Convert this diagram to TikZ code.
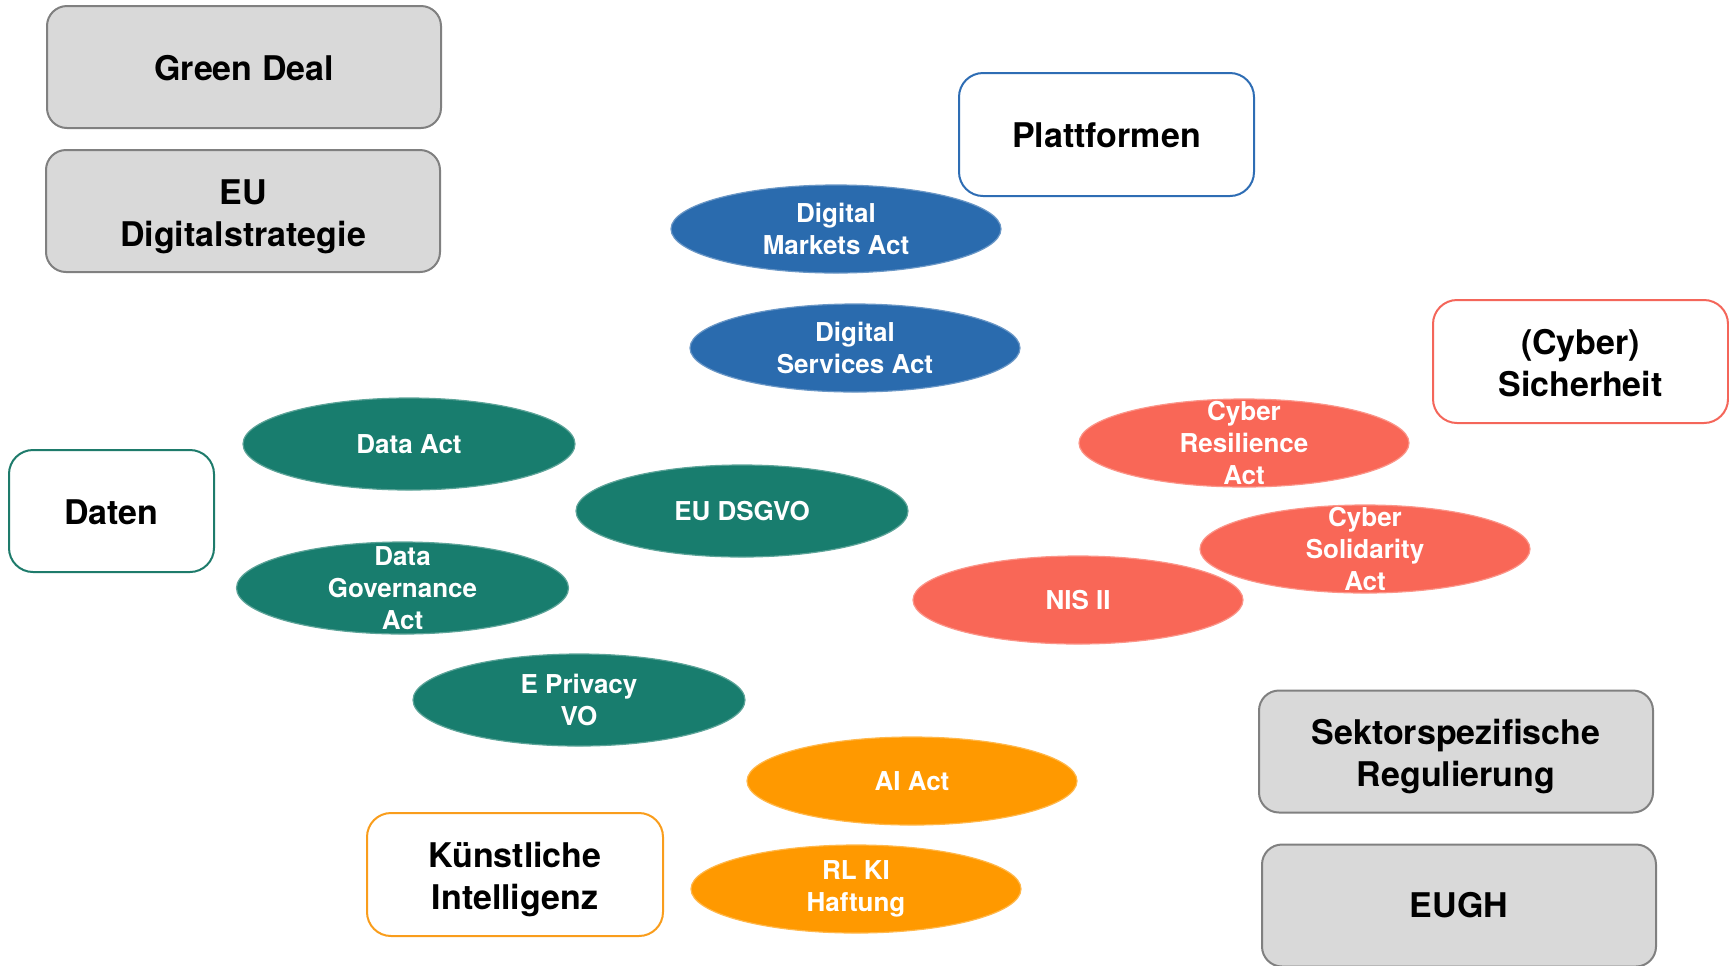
\documentclass[tikz,border=0pt]{standalone}
\usepackage{fontspec}
\setmainfont{TeX Gyre Heros}
\usetikzlibrary{shapes.geometric}
\definecolor{grayfill}{HTML}{D9D9D9}
\definecolor{grayline}{HTML}{808080}
\definecolor{eblue}{HTML}{2A6BAE}
\definecolor{egreen}{HTML}{187D6E}
\definecolor{ered}{HTML}{F96757}
\definecolor{eorange}{HTML}{FF9900}
\definecolor{bblue}{HTML}{2E6DB4}
\definecolor{bgreen}{HTML}{1E7B6B}
\definecolor{bred}{HTML}{F4665A}
\definecolor{borange}{HTML}{F99D1C}
\tikzset{
  boxtext/.style={inner sep=0pt, align=center,
    font=\fontsize{17pt}{21pt}\selectfont\bfseries},
  twoline/.style={yshift=-2.75pt},
  graybox/.style={draw=grayline, fill=grayfill, line width=1pt, rounded corners=10pt,
    minimum width=197pt, minimum height=61pt, inner sep=0pt},
  topicbox/.style={draw=#1, fill=white, line width=1pt, rounded corners=12pt,
    minimum width=147.5pt, minimum height=61.5pt, inner sep=0pt},
  acttext/.style={text=white, inner sep=0pt, align=center,
    font=\fontsize{13pt}{16pt}\selectfont\bfseries},
  act/.style={ellipse, fill=#1, draw=#1!70!white, line width=0.6pt,
    minimum width=165pt, minimum height=44pt, inner sep=0pt},
  gact/.style={act=egreen, minimum width=166pt, minimum height=46pt}
}
\begin{document}
\begin{tikzpicture}[x=0.5pt,y=-0.5pt]
\useasboundingbox (0,0) rectangle (1729,965);
% gray boxes
\node[graybox, label={[boxtext, yshift=-0.5pt]center:{Green Deal}}] (green) at (244,67) {};
\node[graybox, label={[boxtext, twoline]center:{EU\\Digitalstrategie}}] (strat) at (243,211) {};
\node[graybox, label={[boxtext, twoline]center:{Sektorspezifische\\Regulierung}}] (sektor) at (1456,751.5) {};
\node[graybox, label={[boxtext]center:{EUGH}}] (eugh) at (1459,905.5) {};
% topic boxes
\node[topicbox=bblue, label={[boxtext, yshift=-0.5pt]center:{Plattformen}}] (platt) at (1106.5,134.5) {};
\node[topicbox=bred, label={[boxtext, yshift=-0.8pt]center:{(Cyber)\\Sicherheit}}] (cyber) at (1580.5,361.5) {};
\node[topicbox=bgreen, minimum width=102.5pt, minimum height=61pt, label={[boxtext, yshift=-0.5pt]center:{Daten}}] (daten) at (111.5,511) {};
\node[topicbox=borange, minimum width=148pt, label={[boxtext, twoline]center:{Künstliche\\Intelligenz}}] (ki) at (515,874.5) {};
% blue acts
\node[act=eblue, label={[acttext]center:{Digital\\Markets Act}}] (dma) at (836,229) {};
\node[act=eblue, label={[acttext]center:{Digital\\Services Act}}] (dsa) at (855,348) {};
% red acts
\node[act=ered, label={[acttext]center:{Cyber\\Resilience\\Act}}] (cra) at (1244,443) {};
\node[act=ered, label={[acttext]center:{NIS II}}] (nis) at (1078,600) {};
\node[act=ered, label={[acttext]center:{Cyber\\Solidarity\\Act}}] (csa) at (1365,549) {};
% green acts
\node[gact, label={[acttext]center:{Data Act}}] (dataact) at (409,444) {};
\node[gact, label={[acttext]center:{EU DSGVO}}] (dsgvo) at (742,511) {};
\node[gact, label={[acttext]center:{Data\\Governance\\Act}}] (dga) at (402.5,588) {};
\node[gact, label={[acttext]center:{E Privacy\\VO}}] (epriv) at (579,700) {};
% orange acts
\node[act=eorange, label={[acttext]center:{AI Act}}] (aiact) at (912,781) {};
\node[act=eorange, label={[acttext]center:{RL KI\\Haftung}}] (rlki) at (856,889) {};
\end{tikzpicture}
\end{document}
